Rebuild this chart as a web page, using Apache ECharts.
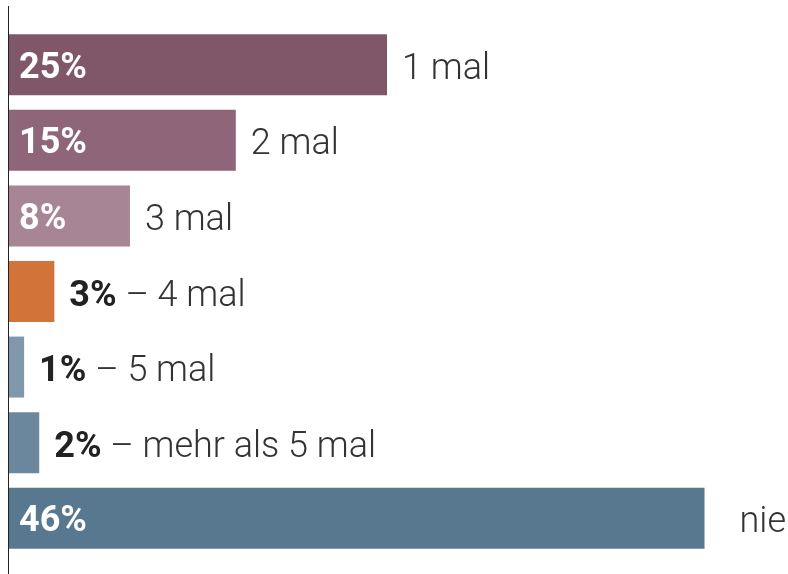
<!DOCTYPE html>
<html>
<head>
<meta charset="utf-8">
<script src="https://cdn.jsdelivr.net/npm/echarts@6/dist/echarts.min.js"></script>
<style>
  html, body { margin: 0; padding: 0; background: #fff; }
  #chart { width: 788px; height: 574px; }
</style>
</head>
<body>
<div id="chart"></div>
<script>
// Häufigkeit (Anteil in %)
const categories = ["1 mal", "2 mal", "3 mal", "4 mal", "5 mal", "mehr als 5 mal", "nie"];
const values = [25, 15, 8, 3, 1, 2, 46];
const colors = ["#7f5768", "#8e6579", "#a88594", "#d27339", "#8198ac", "#6b879d", "#58788f"];

const FONT = "Roboto";
const small = (v) => v < 5;

var chart = echarts.init(document.getElementById("chart"));

var option = {
  animation: false,
  grid: { left: 9, top: 27, width: 756, height: 529 },
  xAxis: {
    type: "value",
    min: 0,
    max: 50,
    show: false
  },
  yAxis: {
    type: "category",
    data: categories,
    inverse: true,
    axisLine: { show: false },
    axisTick: { show: false },
    axisLabel: { show: false }
  },
  graphic: [
    {
      type: "line",
      shape: { x1: 8.5, y1: 6, x2: 8.5, y2: 574 },
      style: { stroke: "#222", lineWidth: 1 },
      z: 10
    }
  ],
  series: [
    {
      type: "bar",
      barWidth: 61,
      data: values.map((v, i) => ({
        value: v,
        itemStyle: { color: colors[i] },
        label: { show: !small(v) }
      })),
      label: {
        position: "insideLeft",
        distance: 10,
        offset: [0, 4],
        formatter: (p) => p.value + "%",
        color: "#fff",
        fontFamily: FONT,
        fontWeight: "bold",
        fontSize: 36
      }
    },
    {
      type: "bar",
      barWidth: 61,
      barGap: "-100%",
      silent: true,
      data: values.map((v, i) => ({
        value: v,
        itemStyle: { color: "rgba(0,0,0,0)" },
        label: { distance: categories[i] === "nie" ? 35 : 15 }
      })),
      label: {
        show: true,
        position: "right",
        offset: [0, 5],
        fontFamily: FONT,
        fontSize: 36,
        fontWeight: 300,
        color: "#333",
        formatter: (p) =>
          small(p.value)
            ? "{b|" + p.value + "%} – " + p.name
            : p.name,
        rich: {
          b: {
            fontFamily: FONT,
            fontSize: 36,
            fontWeight: "bold",
            color: "#222"
          }
        }
      }
    }
  ]
};

chart.setOption(option);
</script>
</body>
</html>
